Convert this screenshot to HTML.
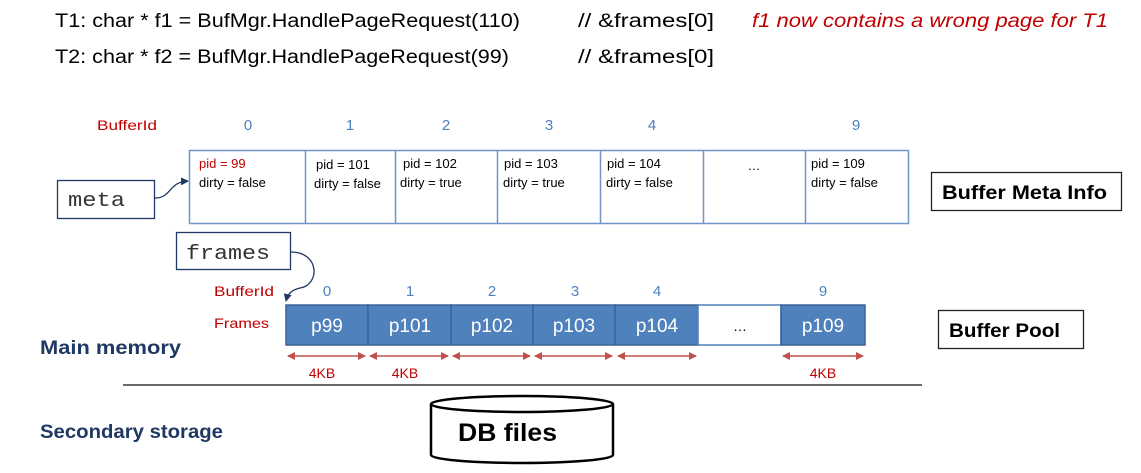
<!DOCTYPE html>
<html><head><meta charset="utf-8"><style>
html,body{margin:0;padding:0;background:#fff;}
svg{display:block;}
text{font-family:"Liberation Sans",sans-serif;}
.mono{font-family:"Liberation Mono",monospace;}
</style></head><body>
<svg width="1141" height="473" viewBox="0 0 1141 473" xmlns="http://www.w3.org/2000/svg">
<defs>
<marker id="ah" markerWidth="8" markerHeight="8" refX="7" refY="4" orient="auto" markerUnits="userSpaceOnUse"><path d="M0,0 L8,4 L0,8 Z" fill="#1f3864"/></marker>
<marker id="ra" markerWidth="8" markerHeight="8" refX="7" refY="4" orient="auto-start-reverse" markerUnits="userSpaceOnUse"><path d="M0,0 L8,4 L0,8 Z" fill="#c0504d"/></marker>
</defs>
<text x="55" y="27" font-size="19" fill="#000" textLength="465" lengthAdjust="spacingAndGlyphs">T1: char * f1 = BufMgr.HandlePageRequest(110)</text>
<text x="578" y="27" font-size="19" fill="#000" textLength="136" lengthAdjust="spacingAndGlyphs">// &amp;frames[0]</text>
<text x="752" y="27" font-size="19" font-style="italic" fill="#c00000" textLength="356" lengthAdjust="spacingAndGlyphs">f1 now contains a wrong page for T1</text>
<text x="55" y="63" font-size="19" fill="#000" textLength="454" lengthAdjust="spacingAndGlyphs">T2: char * f2 = BufMgr.HandlePageRequest(99)</text>
<text x="578" y="63" font-size="19" fill="#000" textLength="136" lengthAdjust="spacingAndGlyphs">// &amp;frames[0]</text>
<text x="97" y="130" font-size="14" fill="#c00000" textLength="60" lengthAdjust="spacingAndGlyphs">BufferId</text>
<g font-size="15" fill="#4f81bd" text-anchor="middle">
<text x="248" y="130">0</text><text x="350" y="130">1</text><text x="446" y="130">2</text><text x="549" y="130">3</text><text x="652" y="130">4</text><text x="856" y="130">9</text>
</g>
<rect x="189.5" y="150.5" width="719" height="73" fill="#fff" stroke="#6f96c8" stroke-width="1.5"/>
<g stroke="#6f96c8" stroke-width="1.5">
<line x1="305.5" y1="150" x2="305.5" y2="224"/><line x1="395.5" y1="150" x2="395.5" y2="224"/><line x1="497.5" y1="150" x2="497.5" y2="224"/><line x1="600.5" y1="150" x2="600.5" y2="224"/><line x1="703.5" y1="150" x2="703.5" y2="224"/><line x1="805.5" y1="150" x2="805.5" y2="224"/>
</g>
<g font-size="13" fill="#000">
<text x="199" y="168" fill="#c00000">pid = 99</text><text x="199" y="187">dirty = false</text>
<text x="316" y="169">pid = 101</text><text x="314" y="188">dirty = false</text>
<text x="403" y="168">pid = 102</text><text x="400" y="187">dirty = true</text>
<text x="504" y="168">pid = 103</text><text x="503" y="187">dirty = true</text>
<text x="607" y="168">pid = 104</text><text x="606" y="187">dirty = false</text>
<text x="754" y="170" text-anchor="middle">…</text>
<text x="811" y="168">pid = 109</text><text x="811" y="187">dirty = false</text>
</g>
<rect x="57.5" y="180.5" width="97" height="38" fill="#fff" stroke="#1f3864" stroke-width="1.3"/>
<text x="68" y="206" class="mono" font-size="20" fill="#333" textLength="57" lengthAdjust="spacingAndGlyphs">meta</text>
<path d="M155,198 C172,198 168,182 188,181" fill="none" stroke="#1f3864" stroke-width="1.3" marker-end="url(#ah)"/>
<rect x="176.5" y="232.5" width="114" height="37" fill="#fff" stroke="#1f3864" stroke-width="1.3"/>
<text x="186" y="259" class="mono" font-size="20" fill="#333" textLength="84" lengthAdjust="spacingAndGlyphs">frames</text>
<path d="M291,252 C320,252 320,285 300,288 C292,290 288,293 286,301" fill="none" stroke="#1f3864" stroke-width="1.3" marker-end="url(#ah)"/>
<text x="214" y="296" font-size="14" fill="#c00000" textLength="60" lengthAdjust="spacingAndGlyphs">BufferId</text>
<text x="214" y="328" font-size="14" fill="#c00000" textLength="55" lengthAdjust="spacingAndGlyphs">Frames</text>
<g font-size="15" fill="#4f81bd" text-anchor="middle">
<text x="327" y="296">0</text><text x="410" y="296">1</text><text x="492" y="296">2</text><text x="575" y="296">3</text><text x="657" y="296">4</text><text x="823" y="296">9</text>
</g>
<g stroke="#3a6597" stroke-width="1.5">
<rect x="286" y="305" width="82" height="40" fill="#4f81bd"/>
<rect x="368" y="305" width="83" height="40" fill="#4f81bd"/>
<rect x="451" y="305" width="82" height="40" fill="#4f81bd"/>
<rect x="533" y="305" width="82" height="40" fill="#4f81bd"/>
<rect x="615" y="305" width="83" height="40" fill="#4f81bd"/>
<rect x="698" y="305" width="83" height="40" fill="#fff" stroke="#4f81bd"/>
<rect x="781" y="305" width="84" height="40" fill="#4f81bd"/>
</g>
<g font-size="19" fill="#fff" text-anchor="middle">
<text x="327" y="332">p99</text><text x="410" y="332">p101</text><text x="492" y="332">p102</text><text x="574" y="332">p103</text><text x="657" y="332">p104</text><text x="823" y="332">p109</text>
</g>
<text x="740" y="331" font-size="14" fill="#000" text-anchor="middle">…</text>
<g stroke="#c0504d" stroke-width="1.5" marker-start="url(#ra)" marker-end="url(#ra)">
<line x1="288" y1="356" x2="365" y2="356"/><line x1="370" y1="356" x2="448" y2="356"/><line x1="453" y1="356" x2="530" y2="356"/><line x1="535" y1="356" x2="612" y2="356"/><line x1="618" y1="356" x2="696" y2="356"/><line x1="783" y1="356" x2="863" y2="356"/>
</g>
<g font-size="14" fill="#c00000" text-anchor="middle">
<text x="322" y="378">4KB</text><text x="405" y="378">4KB</text><text x="823" y="378">4KB</text>
</g>
<rect x="931.5" y="172.5" width="190" height="38" fill="#fff" stroke="#222" stroke-width="1.3"/>
<text x="942" y="199" font-size="19" font-weight="bold" fill="#000" textLength="165" lengthAdjust="spacingAndGlyphs">Buffer Meta Info</text>
<rect x="938.5" y="310.5" width="145" height="38" fill="#fff" stroke="#222" stroke-width="1.3"/>
<text x="949" y="337" font-size="19" font-weight="bold" fill="#000" textLength="111" lengthAdjust="spacingAndGlyphs">Buffer Pool</text>
<text x="40" y="354" font-size="19" font-weight="bold" fill="#1f3864" textLength="141" lengthAdjust="spacingAndGlyphs">Main memory</text>
<line x1="123" y1="385" x2="922" y2="385" stroke="#111" stroke-width="1.3"/>
<text x="40" y="438" font-size="19" font-weight="bold" fill="#1f3864" textLength="183" lengthAdjust="spacingAndGlyphs">Secondary storage</text>
<path d="M431,404 L431,455 A91,8 0 0 0 613,455 L613,404" fill="#fff" stroke="#000" stroke-width="2.5"/>
<ellipse cx="522" cy="404" rx="91" ry="8" fill="#fff" stroke="#000" stroke-width="2.5"/>
<text x="458" y="441" font-size="25" font-weight="bold" fill="#000" textLength="99" lengthAdjust="spacingAndGlyphs">DB files</text>
</svg>
</body></html>
